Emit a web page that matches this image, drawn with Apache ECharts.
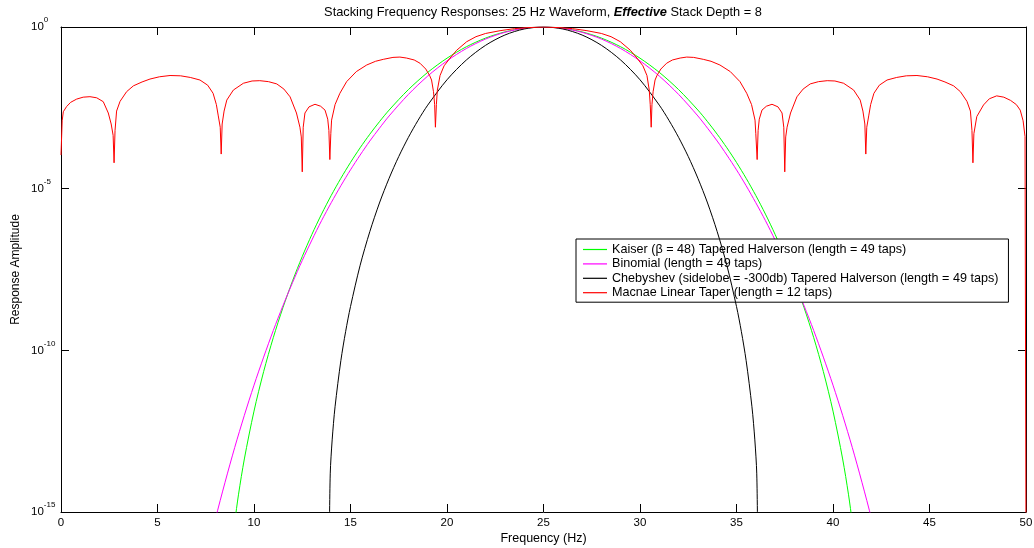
<!DOCTYPE html>
<html>
<head>
<meta charset="utf-8">
<title>Stacking Frequency Responses</title>
<script src="https://cdn.jsdelivr.net/npm/echarts/dist/echarts.min.js"></script>
<style>
  html, body { margin: 0; padding: 0; background: #fff; }
  #chart { width: 1034px; height: 548px; }
</style>
</head>
<body>
<div id="chart"></div>
<script>
// Frequency axis ticks (Hz) and amplitude decades (log10 of response amplitude)
const freqTicks = [0, 5, 10, 15, 20, 25, 30, 35, 40, 45, 50];
const decadeTicks = [0, -5, -10, -15];

const seriesNames = [
  'Kaiser (\u03B2 = 48) Tapered Halverson (length = 49 taps)',
  'Binomial (length = 49 taps)',
  'Chebyshev (sidelobe = -300db) Tapered Halverson (length = 49 taps)',
  'Macnae Linear Taper (length = 12 taps)'
];
const seriesColors = ['#00ff00', '#ff00ff', '#000000', '#ff0000'];

// Kaiser tapered Halverson: frequency (Hz) and log10 amplitude
const kaiserFreq = [8.8, 9, 9.2, 9.5, 10, 10.5, 11, 11.5, 12, 12.5, 13, 13.5, 14, 14.5, 15, 15.5, 16, 16.5, 17,
  18, 19, 20, 21, 22, 23, 24, 25, 26, 27, 28, 29, 30, 31, 32, 33,
  33.5, 34, 34.5, 35, 35.5, 36, 36.5, 37, 37.5, 38, 38.5, 39, 39.5, 40, 40.5, 40.8, 41, 41.2];
const kaiserLog = [-16.41, -15.33, -14.45, -13.36, -11.88, -10.657, -9.606, -8.679, -7.848, -7.098, -6.414, -5.787, -5.211, -4.68, -4.189, -3.735, -3.316, -2.928, -2.569,
  -1.936, -1.403, -0.965, -0.612, -0.342, -0.152, -0.038, 0, -0.038, -0.152, -0.342, -0.612, -0.965, -1.403, -1.936, -2.569,
  -2.928, -3.316, -3.735, -4.189, -4.68, -5.211, -5.787, -6.414, -7.098, -7.848, -8.679, -9.606, -10.657, -11.88, -13.36, -14.45, -15.33, -16.41];

// Binomial: frequency (Hz) and log10 amplitude
const binomialFreq = [7.5, 8, 8.5, 9, 9.5, 10, 10.5, 11, 11.5, 12, 12.5, 13, 13.5, 14, 14.5, 15, 15.5, 16, 16.5, 17,
  18, 19, 20, 21, 22, 23, 24, 25, 26, 27, 28, 29, 30, 31, 32, 33,
  33.5, 34, 34.5, 35, 35.5, 36, 36.5, 37, 37.5, 38, 38.5, 39, 39.5, 40, 40.5, 41, 41.5, 42, 42.5];
const binomialLog = [-16.46, -15.22, -14.08, -13.007, -12.01, -11.077, -10.21, -9.387, -8.62, -7.9, -7.22, -6.59, -5.99, -5.435, -4.91, -4.418, -3.96, -3.527, -3.13, -2.752,
  -2.085, -1.518, -1.047, -0.666, -0.372, -0.165, -0.041, 0, -0.041, -0.165, -0.372, -0.666, -1.047, -1.518, -2.085, -2.752,
  -3.13, -3.527, -3.96, -4.418, -4.91, -5.435, -5.99, -6.59, -7.22, -7.9, -8.62, -9.387, -10.21, -11.077, -12.01, -13.007, -14.08, -15.22, -16.46];

// Chebyshev tapered Halverson: frequency (Hz) and log10 amplitude
const chebyFreq = [13.9, 13.95, 14.05, 14.2, 14.5, 14.75, 15, 15.5, 16, 16.5, 17, 17.5, 18, 18.5, 19, 20, 21, 22, 23, 24, 25,
  26, 27, 28, 29, 30, 31, 31.5, 32, 32.5, 33, 33.5, 34, 34.5, 35, 35.25, 35.5, 35.8, 35.95, 36.05, 36.1];
const chebyLog = [-16, -13.82, -12.77, -11.745, -10.32, -9.412, -8.646, -7.369, -6.33, -5.443, -4.679, -4.006, -3.413, -2.886, -2.417, -1.632, -1.022, -0.566, -0.248, -0.061, 0,
  -0.061, -0.248, -0.566, -1.022, -1.632, -2.417, -2.886, -3.413, -4.006, -4.679, -5.443, -6.33, -7.369, -8.646, -9.412, -10.32, -11.745, -12.77, -13.82, -16];

// Macnae linear taper: frequency (Hz) and log10 amplitude
const macnaeFreq = [
  0, 0.06, 0.12, 0.29, 0.5, 0.81, 1.15, 1.5, 1.85, 2.19, 2.45, 2.6, 2.7, 2.75,
  2.8, 2.88, 3.06, 3.4, 3.75, 4.2, 4.61, 5.1, 5.65, 6.2, 6.7, 7.2, 7.6, 7.88, 8.05, 8.15, 8.25, 8.3,
  8.35, 8.45, 8.59, 8.93, 9.45, 9.9, 10.3, 10.75, 11.18, 11.55, 11.87, 12.2, 12.38, 12.45, 12.5,
  12.55, 12.64, 12.85, 13.16, 13.45, 13.68, 13.82, 13.88, 13.93,
  13.98, 14.02, 14.2, 14.45, 14.8, 15.3, 15.84, 16.3, 16.7, 17.2, 17.56, 17.9, 18.3, 18.6, 18.9, 19.1, 19.2, 19.3, 19.36, 19.4,
  19.45, 19.5, 19.64, 19.85, 20.16, 20.5, 21.02, 21.5, 22, 22.75, 23.5, 24.16, 25,
  25.84, 26.5, 27.25, 28, 28.5, 28.98, 29.5, 29.84, 30.15, 30.36, 30.48, 30.53, 30.58,
  30.62, 30.68, 30.78, 30.88, 31.08, 31.38, 31.68, 32.08, 32.42, 32.78, 33.28, 33.68, 34.14, 34.68, 35.18, 35.53, 35.78, 35.96, 36, 36.07,
  36.12, 36.18, 36.32, 36.55, 36.84, 37.15, 37.36, 37.45, 37.5,
  37.55, 37.62, 37.8, 38.13, 38.45, 38.82, 39.25, 39.7, 40.1, 40.55, 41.07, 41.41, 41.55, 41.65, 41.7,
  41.75, 41.85, 41.95, 42.12, 42.4, 42.8, 43.3, 43.8, 44.35, 44.9, 45.39, 45.8, 46.25, 46.6, 46.94, 47.12, 47.2, 47.25,
  47.3, 47.45, 47.8, 48.1, 48.48, 48.85, 49.2, 49.5, 49.7, 49.85, 49.95, 50
];
const macnaeLog = [
  -3.96, -2.9, -2.62, -2.46, -2.33, -2.23, -2.17, -2.155, -2.19, -2.31, -2.66, -3.0, -3.35, -4.2,
  -3.2, -2.6, -2.3, -2.0, -1.82, -1.7, -1.61, -1.54, -1.5, -1.51, -1.56, -1.64, -1.8, -2.05, -2.4, -2.75, -3.1, -3.93,
  -3.0, -2.6, -2.26, -1.95, -1.74, -1.67, -1.66, -1.69, -1.76, -1.92, -2.16, -2.66, -3.1, -3.4, -4.48,
  -3.1, -2.66, -2.47, -2.39, -2.45, -2.57, -2.85, -3.2, -4.1,
  -3.3, -2.88, -2.4, -2.05, -1.69, -1.38, -1.175, -1.06, -1.0, -0.94, -0.93, -0.96, -1.02, -1.12, -1.3, -1.5, -1.64, -2.0, -2.4, -3.1,
  -2.4, -1.95, -1.5, -1.2, -0.96, -0.72, -0.455, -0.3, -0.2, -0.114, -0.05, -0.02, 0,
  -0.02, -0.05, -0.114, -0.2, -0.3, -0.455, -0.72, -0.96, -1.2, -1.5, -1.95, -2.4, -3.1,
  -2.4, -2.0, -1.64, -1.5, -1.3, -1.12, -1.02, -0.96, -0.93, -0.94, -1.0, -1.06, -1.175, -1.38, -1.69, -2.05, -2.4, -2.88, -3.3, -4.1,
  -3.2, -2.85, -2.57, -2.45, -2.39, -2.47, -2.66, -3.1, -4.48,
  -3.4, -3.1, -2.66, -2.16, -1.92, -1.76, -1.69, -1.66, -1.67, -1.74, -1.95, -2.26, -2.6, -3.0, -3.93,
  -3.1, -2.75, -2.4, -2.05, -1.8, -1.64, -1.56, -1.51, -1.5, -1.54, -1.61, -1.7, -1.82, -2.0, -2.3, -2.6, -3.2, -4.2,
  -3.3, -2.77, -2.41, -2.22, -2.13, -2.17, -2.27, -2.4, -2.57, -2.9, -3.39, -16
];

const FONT = '"Liberation Sans", Arial, Helvetica, sans-serif';

function pairs(xs, ys) {
  return xs.map((x, i) => [x, ys[i]]);
}

const curves = [
  { freq: kaiserFreq, log: kaiserLog, smooth: 0.3 },
  { freq: binomialFreq, log: binomialLog, smooth: 0.3 },
  { freq: chebyFreq, log: chebyLog, smooth: 0.3 },
  { freq: macnaeFreq, log: macnaeLog, smooth: false }
];

const chart = echarts.init(document.getElementById('chart'), null, { renderer: 'canvas' });

// Box frame: every axis sits on its own grid edge with ticks pointing into the plot
function frameLine() {
  return { show: true, onZero: false, lineStyle: { color: '#000', width: 1 } };
}
function frameTick() {
  return { show: true, inside: true, length: 8, lineStyle: { color: '#000', width: 1 } };
}

chart.setOption({
  animation: false,
  backgroundColor: '#fff',
  textStyle: { fontFamily: FONT },
  title: {
    text: '{n|Stacking Frequency Responses: 25 Hz Waveform, }{bi|Effective}{n| Stack Depth = 8}',
    left: 543,
    top: 6,
    textAlign: 'center',
    padding: 0,
    textStyle: {
      rich: {
        n: { fontFamily: FONT, fontSize: 12.8, color: '#000', fontWeight: 'normal' },
        bi: { fontFamily: FONT, fontSize: 12.8, color: '#000', fontWeight: 'bold', fontStyle: 'italic' }
      }
    }
  },
  legend: {
    orient: 'vertical',
    left: 576,
    top: 239,
    selectedMode: false,
    data: seriesNames.map(n => ({ name: n, icon: 'rect' })),
    itemWidth: 24,
    itemHeight: 1.2,
    itemGap: 1.4,
    padding: [4, 10, 3, 7],
    backgroundColor: '#fff',
    borderColor: '#000',
    borderWidth: 1,
    borderRadius: 0,
    textStyle: { fontFamily: FONT, fontSize: 12.6, color: '#000', lineHeight: 12 }
  },
  grid: { left: 61, right: 8, top: 27, bottom: 36, show: false, outerBoundsMode: 'none', containLabel: false },
  xAxis: [
    {
      type: 'value', min: 0, max: 50, interval: 5, position: 'bottom',
      name: 'Frequency (Hz)', nameLocation: 'middle', nameGap: 20, nameMoveOverlap: false,
      nameTextStyle: { fontFamily: FONT, fontSize: 12.5, color: '#000' },
      axisLine: frameLine(), axisTick: frameTick(),
      axisLabel: {
        fontFamily: FONT, fontSize: 11.5, color: '#000', margin: 5,
        formatter: v => (freqTicks.indexOf(v) >= 0 ? String(v) : '')
      },
      splitLine: { show: false }
    },
    {
      type: 'value', min: 0, max: 50, interval: 5, position: 'top',
      axisLine: frameLine(), axisTick: frameTick(),
      axisLabel: { show: false }, splitLine: { show: false }
    }
  ],
  yAxis: [
    {
      type: 'value', min: -15, max: 0, interval: 5, position: 'left',
      name: 'Response Amplitude', nameLocation: 'middle', nameGap: 39, nameMoveOverlap: false,
      nameTextStyle: { fontFamily: FONT, fontSize: 12, color: '#000' },
      axisLine: frameLine(), axisTick: frameTick(),
      axisLabel: {
        align: 'left', margin: 30,
        formatter: v => (decadeTicks.indexOf(v) >= 0 ? '{b|10}{s|' + v + '}' : ''),
        rich: {
          b: { fontFamily: FONT, fontSize: 11.5, color: '#000', lineHeight: 22, verticalAlign: 'middle' },
          s: { fontFamily: FONT, fontSize: 8, color: '#000', lineHeight: 8, verticalAlign: 'top' }
        }
      },
      splitLine: { show: false }
    },
    {
      type: 'value', min: -15, max: 0, interval: 5, position: 'right',
      axisLine: frameLine(), axisTick: frameTick(),
      axisLabel: { show: false }, splitLine: { show: false }
    }
  ],
  series: curves.map((c, i) => ({
    name: seriesNames[i],
    type: 'line',
    xAxisIndex: 0,
    yAxisIndex: 0,
    data: pairs(c.freq, c.log),
    symbol: 'none',
    showSymbol: false,
    smooth: c.smooth,
    clip: true,
    color: seriesColors[i],
    itemStyle: { color: seriesColors[i] },
    lineStyle: { color: seriesColors[i], width: 1 },
    emphasis: { disabled: true },
    z: 2 + i
  }))
});
</script>
</body>
</html>
